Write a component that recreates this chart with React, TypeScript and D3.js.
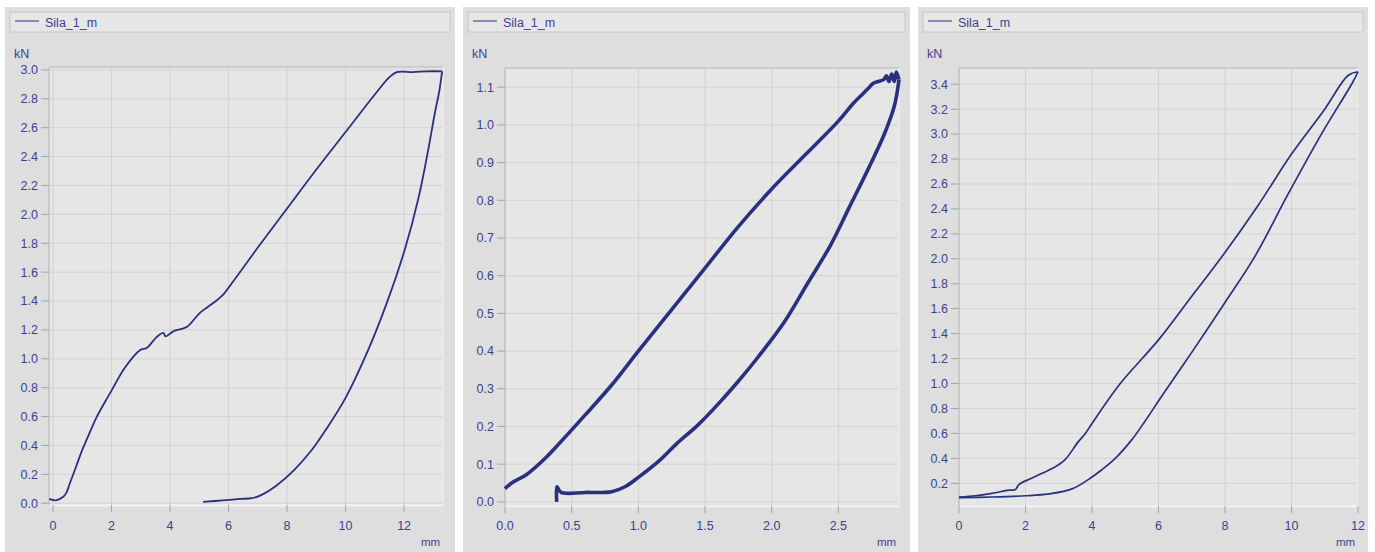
import React from 'react';
import * as d3 from 'd3';

type Pt = [number, number];

// Panel 1 (0..13.3 mm, 0..3.0 kN)
const load1: Pt[] = [
  [-0.13, 0.03], [0.1, 0.02], [0.35, 0.045], [0.45, 0.07], [0.58, 0.14], [0.8, 0.26],
  [1.0, 0.37], [1.15, 0.44], [1.5, 0.6], [1.8, 0.71], [2.0, 0.78], [2.46, 0.94],
  [2.97, 1.06], [3.2, 1.075], [3.54, 1.15], [3.77, 1.18], [3.85, 1.155], [4.11, 1.19],
  [4.57, 1.22], [5.03, 1.32], [5.5, 1.39], [5.8, 1.44], [6.1, 1.52], [6.5, 1.63],
  [7.0, 1.77], [8.0, 2.04], [9.0, 2.31], [10.0, 2.57], [11.0, 2.83], [11.5, 2.95],
  [11.75, 2.985], [12.3, 2.985], [12.8, 2.99], [13.3, 2.99],
];
const unload1: Pt[] = [
  [13.3, 2.99], [13.2, 2.85], [13.06, 2.71], [12.8, 2.42], [12.5, 2.12], [12.03, 1.76],
  [11.45, 1.41], [10.77, 1.06], [10.0, 0.73], [9.33, 0.51], [8.85, 0.37], [8.24, 0.23],
  [7.62, 0.12], [7.15, 0.06], [6.8, 0.035], [6.4, 0.03], [5.8, 0.02], [5.13, 0.01],
];

// Panel 2 (0..2.95 mm, 0..1.15 kN)
const load2: Pt[] = [
  [0.0, 0.035], [0.05, 0.05], [0.16, 0.072], [0.3, 0.115], [0.41, 0.156], [0.6, 0.23],
  [0.8, 0.31], [1.0, 0.4], [1.25, 0.51], [1.5, 0.62], [1.75, 0.73], [2.0, 0.83],
  [2.25, 0.92], [2.5, 1.01], [2.62, 1.06], [2.72, 1.095], [2.76, 1.11], [2.8, 1.115],
  [2.84, 1.12], [2.86, 1.13], [2.88, 1.115], [2.9, 1.135], [2.92, 1.115], [2.935, 1.14],
  [2.955, 1.12],
];
const unload2: Pt[] = [
  [2.955, 1.12], [2.92, 1.05], [2.85, 0.98], [2.72, 0.88], [2.58, 0.78], [2.44, 0.68],
  [2.27, 0.58], [2.1, 0.48], [1.9, 0.385], [1.75, 0.32], [1.6, 0.26], [1.45, 0.205],
  [1.29, 0.155], [1.16, 0.11], [1.0, 0.065], [0.9, 0.04], [0.8, 0.027], [0.6, 0.025],
  [0.42, 0.025], [0.39, 0.04], [0.388, 0.0],
];

// Panel 3 (0..12 mm, 0.02..3.53 kN)
const load3: Pt[] = [
  [0.0, 0.09], [0.5, 0.1], [1.0, 0.12], [1.5, 0.145], [1.7, 0.15], [1.8, 0.19],
  [2.18, 0.24], [2.5, 0.28], [2.88, 0.33], [3.19, 0.39], [3.58, 0.53], [3.8, 0.6],
  [4.0, 0.68], [4.85, 1.0], [6.0, 1.35], [7.0, 1.7], [7.86, 2.0], [9.0, 2.43],
  [10.0, 2.84], [11.0, 3.2], [11.7, 3.47], [12.0, 3.5],
];
const unload3: Pt[] = [
  [12.0, 3.5], [11.85, 3.42], [10.9, 3.0], [9.9, 2.52], [8.9, 2.02], [8.0, 1.65],
  [7.0, 1.25], [6.1, 0.9], [5.6, 0.7], [5.2, 0.55], [4.7, 0.4], [4.3, 0.31],
  [4.0, 0.25], [3.4, 0.155], [2.7, 0.115], [2.0, 0.1], [1.0, 0.09], [0.0, 0.085],
];

const xTicks1 = [0, 2, 4, 6, 8, 10, 12];
const yTicks1 = d3.range(0, 16).map((i) => i * 0.2);
const xTicks2 = [0, 0.5, 1.0, 1.5, 2.0, 2.5];
const yTicks2 = d3.range(0, 12).map((i) => i * 0.1);
const xTicks3 = [0, 2, 4, 6, 8, 10, 12];
const yTicks3 = d3.range(1, 18).map((i) => i * 0.2);

const legendName = 'Sila_1_m';
const ink = '#29317f';
const textCol = '#3c3e8e';
const font = '"Liberation Sans", Arial, sans-serif';

interface PanelProps {
  left: number;
  right: number;
  plot: { l: number; r: number; t: number; b: number };
  xDomain: [number, number];
  yDomain: [number, number];
  xTicks: number[];
  yTicks: number[];
  xFmt: string;
  series: Pt[][];
  width: number;
}

const Panel: React.FC<PanelProps> = ({ left, right, plot, xDomain, yDomain, xTicks, yTicks, xFmt, series, width }) => {
  const x = d3.scaleLinear().domain(xDomain).range([plot.l, plot.r]);
  const y = d3.scaleLinear().domain(yDomain).range([plot.b, plot.t]);
  const line = d3.line<Pt>()
    .x((d) => x(d[0]))
    .y((d) => y(d[1]))
    .curve(d3.curveCatmullRom.alpha(0.5));
  const fx = d3.format(xFmt);
  const fy = d3.format('.1f');
  const clipId = `clip-${left}`;

  return (
    <g>
      <rect x={left} y={7} width={right - left} height={552} fill="#dedede" />
      {/* legend */}
      <rect x={left + 5} y={12} width={right - left - 10} height={20} fill="#e7e7e7" stroke="#c6c6c6" />
      <line x1={left + 10} x2={left + 34} y1={21} y2={21} stroke={ink} strokeWidth={1} />
      <text x={left + 40} y={26.5} fontSize={12.5} fill={textCol} fontFamily={font}>{legendName}</text>
      <text x={left + 9} y={58} fontSize={12.5} fill={textCol} fontFamily={font}>kN</text>

      {/* plot area */}
      <rect x={plot.l} y={plot.t} width={plot.r - plot.l} height={plot.b - plot.t} fill="#e6e6e6" />
      {xTicks.map((t) => (
        <line key={'gx' + t} x1={x(t)} x2={x(t)} y1={plot.t} y2={plot.b} stroke="#d3d3d7" />
      ))}
      {yTicks.map((t) => (
        <line key={'gy' + t} x1={plot.l} x2={plot.r} y1={y(t)} y2={y(t)} stroke="#d3d3d7" />
      ))}
      <line x1={plot.l} x2={plot.r} y1={plot.t} y2={plot.t} stroke="#b6b6b6" />
      <line x1={plot.l} x2={plot.l} y1={plot.t} y2={plot.b} stroke="#b6b6b6" />
      <line x1={plot.l} x2={plot.r} y1={plot.b + 0.5} y2={plot.b + 0.5} stroke="#f6f6f6" strokeWidth={1.5} />
      <line x1={plot.r} x2={plot.r} y1={plot.t} y2={plot.b} stroke="#f2f2f2" />

      {/* axes */}
      {yTicks.map((t) => (
        <g key={'ty' + t}>
          <line x1={plot.l - 8} x2={plot.l} y1={y(t)} y2={y(t)} stroke="#a2a2b2" />
          <text x={plot.l - 11} y={y(t)} dy="0.35em" textAnchor="end" fontSize={12.5} fill={textCol} fontFamily={font}>
            {fy(t)}
          </text>
        </g>
      ))}
      {xTicks.map((t) => (
        <g key={'tx' + t}>
          <line x1={x(t)} x2={x(t)} y1={plot.b} y2={plot.b + 7} stroke="#a2a2b2" />
          <text x={x(t)} y={530} textAnchor="middle" fontSize={12.5} fill={textCol} fontFamily={font}>
            {fx(t)}
          </text>
        </g>
      ))}
      <text x={plot.r - 22} y={546} fontSize={11.5} fill={textCol} fontFamily={font}>mm</text>

      <clipPath id={clipId}>
        <rect x={plot.l - 2} y={plot.t - 4} width={plot.r - plot.l + 4} height={plot.b - plot.t + 8} />
      </clipPath>
      <g clipPath={`url(#${clipId})`}>
        {series.map((s, i) => (
          <path key={i} d={line(s) || ''} fill="none" stroke={ink} strokeWidth={width} strokeLinejoin="round" />
        ))}
      </g>
    </g>
  );
};

const App: React.FC = () => {
  return (
    <div style={{ position: 'absolute', left: 0, top: 0 }}>
      <svg width={1375} height={552} style={{ display: 'block', background: '#ffffff' }}>
        <Panel
          left={5} right={455}
          plot={{ l: 49, r: 443, t: 67, b: 505 }}
          xDomain={[-0.137, 13.33]} yDomain={[-0.012, 3.02]}
          xTicks={xTicks1} yTicks={yTicks1} xFmt="d"
          series={[load1, unload1]} width={1.8}
        />
        <Panel
          left={463} right={910}
          plot={{ l: 505, r: 899, t: 68, b: 506 }}
          xDomain={[0, 2.955]} yDomain={[-0.011, 1.151]}
          xTicks={xTicks2} yTicks={yTicks2} xFmt=".1f"
          series={[load2, unload2]} width={3.6}
        />
        <Panel
          left={918} right={1368}
          plot={{ l: 959, r: 1358, t: 68, b: 506 }}
          xDomain={[0, 12]} yDomain={[0.018, 3.53]}
          xTicks={xTicks3} yTicks={yTicks3} xFmt="d"
          series={[load3, unload3]} width={1.7}
        />
      </svg>
    </div>
  );
};

export default App;
